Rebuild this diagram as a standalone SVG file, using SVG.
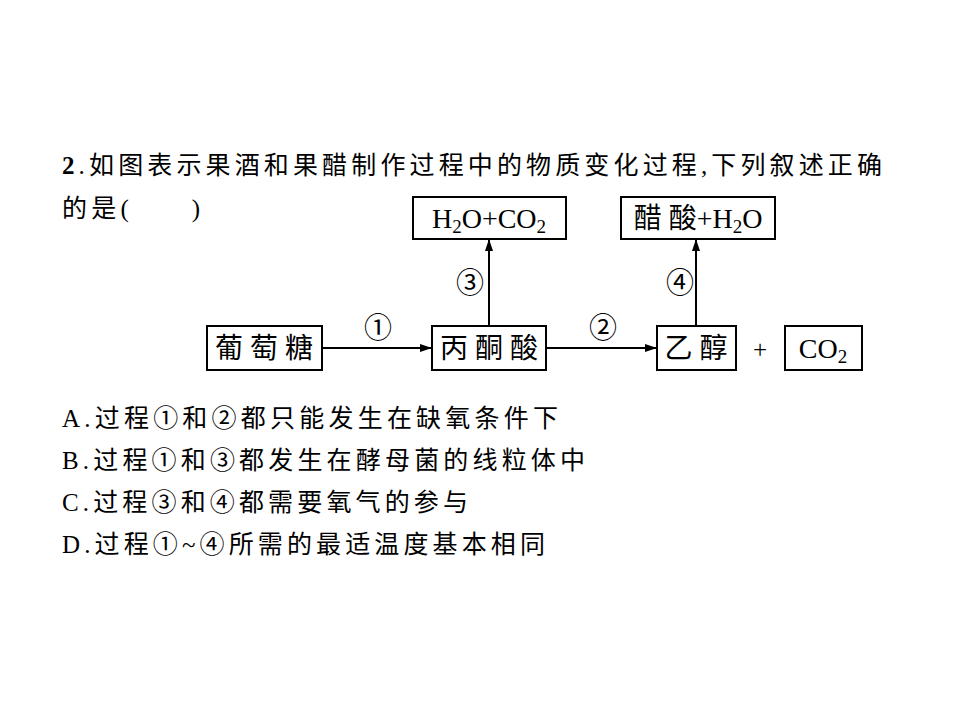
<svg xmlns="http://www.w3.org/2000/svg" width="960" height="720" viewBox="0 0 960 720">
<style>
text{font-family:"Liberation Serif","Noto Sans CJK SC",serif;font-size:25px;fill:#000}
.d{font-size:28px}
.b{fill:#fff;stroke:#000;stroke-width:2}
.l{stroke:#000;stroke-width:2;fill:none}
.c{text-anchor:middle}
</style>
<defs><marker id="a" markerWidth="12" markerHeight="8" refX="11" refY="4" orient="auto" markerUnits="userSpaceOnUse"><path d="M0,0L12,4L0,8z"/></marker></defs>
<rect width="960" height="720" fill="#fff"/>
<text x="62" y="174" textLength="820" lengthAdjust="spacing"><tspan font-weight="bold">2</tspan>.如图表示果酒和果醋制作过程中的物质变化过程,下列叙述正确</text>
<text x="62" y="217" textLength="138" lengthAdjust="spacing">的是(　　)</text>
<g id="n1"><rect class="b" x="207" y="326" width="115" height="44"/><text class="c d" x="264" y="358">葡 萄 糖</text></g>
<g id="n2"><rect class="b" x="432" y="326" width="114" height="44"/><text class="c d" x="489" y="358">丙 酮 酸</text></g>
<g id="n3"><rect class="b" x="657" y="326" width="79" height="44"/><text class="c d" x="696" y="358">乙 醇</text></g>
<g id="n4"><rect class="b" x="785" y="326" width="77" height="44"/><text class="c d" x="823" y="358">CO<tspan font-size="19" dy="5">2</tspan></text></g>
<g id="n5"><rect class="b" x="413" y="197" width="153" height="42"/><text class="c d" x="489" y="228">H<tspan font-size="19" dy="5">2</tspan><tspan dy="-5">O+CO</tspan><tspan font-size="19" dy="5">2</tspan></text></g>
<g id="n6"><rect class="b" x="621" y="197" width="154" height="42"/><text class="c d" x="698" y="228">醋 酸+H<tspan font-size="19" dy="5">2</tspan><tspan dy="-5">O</tspan></text></g>
<text class="c" x="760" y="358" font-size="30">+</text>
<g id="connectors">
<line class="l" x1="322" y1="348" x2="431" y2="348" marker-end="url(#a)"/>
<line class="l" x1="546" y1="348" x2="656" y2="348" marker-end="url(#a)"/>
<line class="l" x1="489" y1="326" x2="489" y2="240" marker-end="url(#a)"/>
<line class="l" x1="696" y1="326" x2="696" y2="240" marker-end="url(#a)"/>
<text class="c d" x="378" y="338">①</text>
<text class="c d" x="603" y="338">②</text>
<text class="c d" x="470" y="293">③</text>
<text class="c d" x="680" y="293">④</text>
</g>
<text x="62" y="427" textLength="496" lengthAdjust="spacing">A.过程①和②都只能发生在缺氧条件下</text>
<text x="62" y="469" textLength="523" lengthAdjust="spacing">B.过程①和③都发生在酵母菌的线粒体中</text>
<text x="62" y="511" textLength="406" lengthAdjust="spacing">C.过程③和④都需要氧气的参与</text>
<text x="62" y="553" textLength="483" lengthAdjust="spacing">D.过程①~④所需的最适温度基本相同</text>
</svg>
